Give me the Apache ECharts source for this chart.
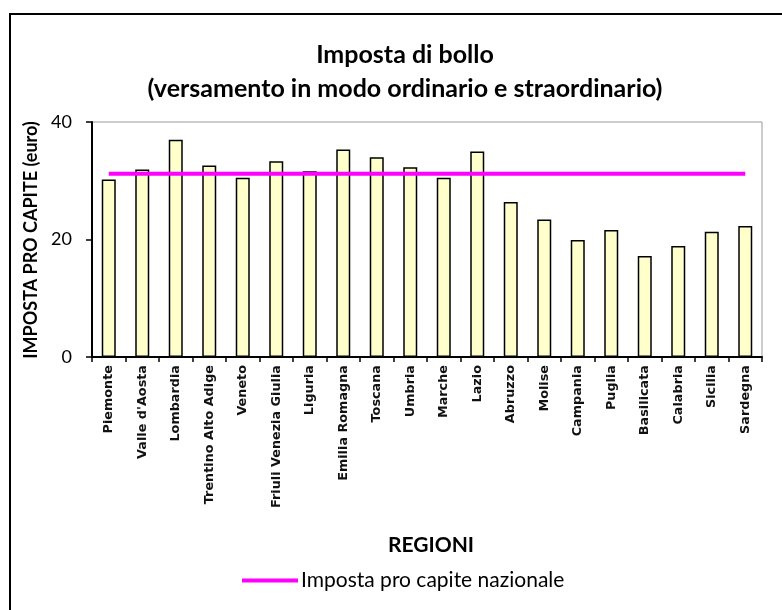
<!DOCTYPE html>
<html>
<head>
<meta charset="utf-8">
<script src="https://cdn.jsdelivr.net/npm/echarts@6/dist/echarts.min.js"></script>
<style>
  html, body { margin: 0; padding: 0; background: #fff; }
  #box { width: 782px; height: 610px; }
</style>
</head>
<body>
<div id="box"></div>
<script>
const aRegioni = ['Piemonte', "Valle d'Aosta", 'Lombardia', 'Trentino Alto Adige', 'Veneto',
    'Friuli Venezia Giulia', 'Liguria', 'Emilia Romagna', 'Toscana', 'Umbria', 'Marche', 'Lazio',
    'Abruzzo', 'Molise', 'Campania', 'Puglia', 'Basilicata', 'Calabria', 'Sicilia', 'Sardegna'];
const aImposta = [30.2, 31.9, 37.0, 32.6, 30.5, 33.3, 31.6, 35.3, 34.0, 32.3, 30.5, 35.0,
    26.4, 23.4, 19.9, 21.6, 17.2, 18.9, 21.3, 22.3];
const fNazionale = 31.2;
const aNazionale = aRegioni.map(() => fNazionale);
const aYTicks = [0, 20, 40];

const myChart = echarts.init(document.getElementById('box'));
const sTitleFont = 'Lato, "Open Sans", sans-serif';

myChart.setOption({
    animation: false,
    title: {
        text: 'Imposta di bollo\n(versamento in modo ordinario e straordinario)',
        left: 400,
        textAlign: 'center',
        top: 33,
        textStyle: { fontFamily: sTitleFont, fontSize: 25, fontWeight: 'bold', color: '#000', lineHeight: 34 },
    },
    legend: {
        data: ['Imposta pro capite nazionale'],
        bottom: 14,
        left: 237,
        icon: 'rect',
        itemWidth: 56,
        itemHeight: 4,
        itemGap: 4,
        textStyle: { fontFamily: sTitleFont, fontSize: 21, color: '#000', padding: [0, 0, 0, -2] },
    },
    grid: {
        left: 92, right: 20, top: 122, bottom: 253,
        show: true, borderColor: '#999', borderWidth: 1,
    },
    xAxis: {
        type: 'category',
        data: aRegioni,
        name: 'REGIONI',
        nameLocation: 'middle',
        nameGap: 178,
        nameTextStyle: { fontFamily: sTitleFont, fontSize: 21, fontWeight: 'bold', color: '#000', padding: [0, 0, 0, 8] },
        axisLine: { lineStyle: { color: '#000', width: 2 } },
        axisTick: { show: true, interval: 0, length: 5, lineStyle: { color: '#000', width: 1.5 } },
        axisLabel: {
            interval: 0, rotate: 90, margin: 8,
            fontFamily: '"DejaVu Sans", sans-serif', fontSize: 12.8, fontWeight: 'bold', color: '#111',
        },
    },
    yAxis: {
        type: 'value',
        min: 0, max: 40, interval: 20,
        axisLine: { show: true, lineStyle: { color: '#000', width: 2 } },
        axisTick: { show: true, length: 6, lineStyle: { color: '#000', width: 1.5 } },
        splitLine: { show: false },
        axisLabel: {
            margin: 20,
            fontFamily: sTitleFont, fontSize: 18, color: '#000',
            formatter: v => aYTicks.includes(v) ? String(v) : '',
        },
    },
    series: [
        {
            name: 'Imposta regionale',
            type: 'bar',
            data: aImposta,
            barWidth: 14,
            itemStyle: { color: '#ffffcc', borderColor: '#000', borderWidth: 1.5 },
        },
        {
            name: 'Imposta pro capite nazionale',
            type: 'line',
            data: aNazionale,
            symbol: 'none',
            lineStyle: { color: '#ff00ff', width: 4 },
            itemStyle: { color: '#ff00ff' },
            z: 5,
        },
    ],
    graphic: [{
        type: 'rect',
        shape: { x: 10, y: 14, width: 800, height: 620 },
        style: { fill: null, stroke: '#000', lineWidth: 2 },
        silent: true,
    }, {
        // titolo asse Y in grassetto
        type: 'text',
        x: 31, y: 240,
        rotation: Math.PI / 2,
        style: {
            text: 'IMPOSTA PRO CAPITE (euro)',
            font: 'bold 18px Lato, "Open Sans", sans-serif',
            fill: '#000',
            align: 'center',
            verticalAlign: 'middle',
        },
        silent: true,
    }],
});
</script>
</body>
</html>
